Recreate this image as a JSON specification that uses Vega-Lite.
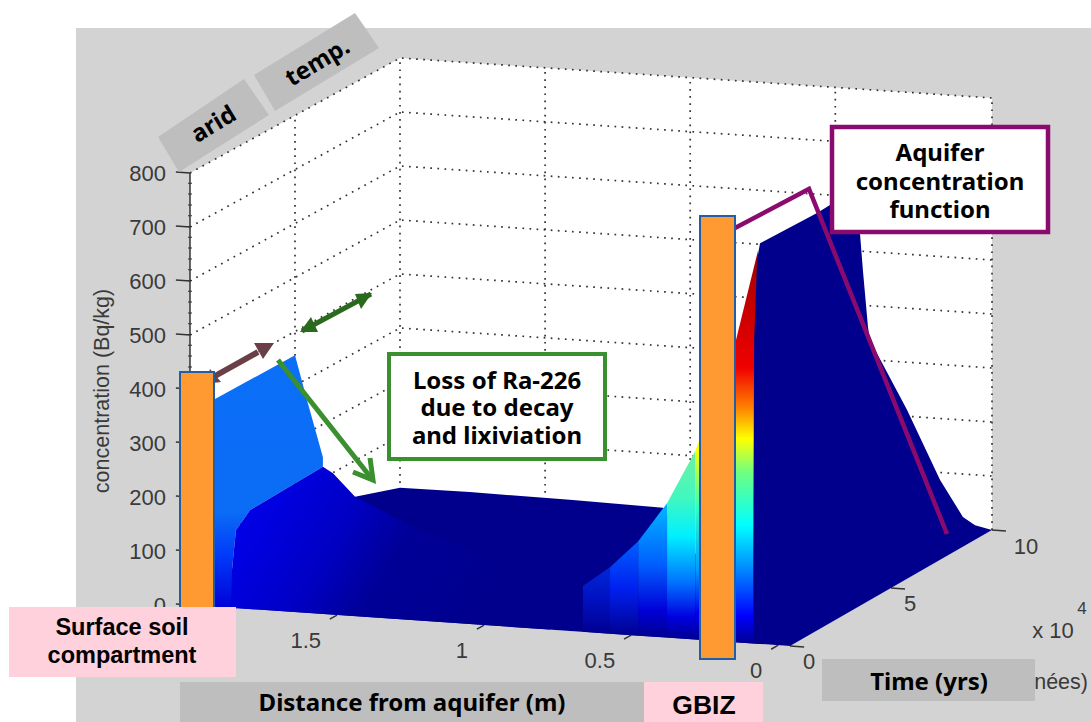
{"$schema":"https://vega.github.io/schema/vega-lite/v6.json","width":1091,"height":722,"padding":0,"autosize":{"type":"fit","contains":"padding"},"background":"#ffffff","config":{"view":{"stroke":null}},
"data":{"values":[
{"part":"panel","x":76,"x2":1091,"y":28,"y2":722},
{"part":"wall","seq":1,"distance":2,"time":0,"conc":0},{"part":"wall","seq":2,"distance":2,"time":0,"conc":800},{"part":"wall","seq":3,"distance":2,"time":10,"conc":800},{"part":"wall","seq":4,"distance":-0.04,"time":10,"conc":800},{"part":"wall","seq":5,"distance":-0.04,"time":10,"conc":0},{"part":"wall","seq":6,"distance":-0.04,"time":0,"conc":0},
{"part":"grid","id":"g100","seq":1,"distance":2,"time":0,"conc":100},{"part":"grid","id":"g100","seq":2,"distance":2,"time":10,"conc":100},{"part":"grid","id":"g100","seq":3,"distance":-0.04,"time":10,"conc":100},
{"part":"grid","id":"g200","seq":1,"distance":2,"time":0,"conc":200},{"part":"grid","id":"g200","seq":2,"distance":2,"time":10,"conc":200},{"part":"grid","id":"g200","seq":3,"distance":-0.04,"time":10,"conc":200},
{"part":"grid","id":"g300","seq":1,"distance":2,"time":0,"conc":300},{"part":"grid","id":"g300","seq":2,"distance":2,"time":10,"conc":300},{"part":"grid","id":"g300","seq":3,"distance":-0.04,"time":10,"conc":300},
{"part":"grid","id":"g400","seq":1,"distance":2,"time":0,"conc":400},{"part":"grid","id":"g400","seq":2,"distance":2,"time":10,"conc":400},{"part":"grid","id":"g400","seq":3,"distance":-0.04,"time":10,"conc":400},
{"part":"grid","id":"g500","seq":1,"distance":2,"time":0,"conc":500},{"part":"grid","id":"g500","seq":2,"distance":2,"time":10,"conc":500},{"part":"grid","id":"g500","seq":3,"distance":-0.04,"time":10,"conc":500},
{"part":"grid","id":"g600","seq":1,"distance":2,"time":0,"conc":600},{"part":"grid","id":"g600","seq":2,"distance":2,"time":10,"conc":600},{"part":"grid","id":"g600","seq":3,"distance":-0.04,"time":10,"conc":600},
{"part":"grid","id":"g700","seq":1,"distance":2,"time":0,"conc":700},{"part":"grid","id":"g700","seq":2,"distance":2,"time":10,"conc":700},{"part":"grid","id":"g700","seq":3,"distance":-0.04,"time":10,"conc":700},
{"part":"grid","id":"g800","seq":1,"distance":2,"time":0,"conc":800},{"part":"grid","id":"g800","seq":2,"distance":2,"time":10,"conc":800},{"part":"grid","id":"g800","seq":3,"distance":-0.04,"time":10,"conc":800},
{"part":"grid","id":"vt5","seq":1,"distance":2,"time":5,"conc":0},{"part":"grid","id":"vt5","seq":2,"distance":2,"time":5,"conc":800},
{"part":"grid","id":"vd2","seq":1,"distance":2,"time":10,"conc":0},{"part":"grid","id":"vd2","seq":2,"distance":2,"time":10,"conc":800},
{"part":"grid","id":"vd15","seq":1,"distance":1.5,"time":10,"conc":0},{"part":"grid","id":"vd15","seq":2,"distance":1.5,"time":10,"conc":800},
{"part":"grid","id":"vd1","seq":1,"distance":1,"time":10,"conc":0},{"part":"grid","id":"vd1","seq":2,"distance":1,"time":10,"conc":800},
{"part":"grid","id":"vd05","seq":1,"distance":0.5,"time":10,"conc":0},{"part":"grid","id":"vd05","seq":2,"distance":0.5,"time":10,"conc":800},
{"part":"grid","id":"vd0","seq":1,"distance":-0.04,"time":10,"conc":0},{"part":"grid","id":"vd0","seq":2,"distance":-0.04,"time":10,"conc":800},
{"part":"minor","id":"zminor","seq":1,"distance":2,"time":0,"conc":0},{"part":"minor","id":"zminor","seq":2,"distance":2,"time":0,"conc":800},
{"part":"axis","id":"zaxis","seq":1,"distance":2,"time":0,"conc":0},{"part":"axis","id":"zaxis","seq":2,"distance":2,"time":0,"conc":800},
{"part":"axis","id":"z0","seq":1,"distance":2.048,"time":0,"conc":0},{"part":"axis","id":"z0","seq":2,"distance":2,"time":0,"conc":0},
{"part":"axis","id":"z100","seq":1,"distance":2.048,"time":0,"conc":100},{"part":"axis","id":"z100","seq":2,"distance":2,"time":0,"conc":100},
{"part":"axis","id":"z200","seq":1,"distance":2.048,"time":0,"conc":200},{"part":"axis","id":"z200","seq":2,"distance":2,"time":0,"conc":200},
{"part":"axis","id":"z300","seq":1,"distance":2.048,"time":0,"conc":300},{"part":"axis","id":"z300","seq":2,"distance":2,"time":0,"conc":300},
{"part":"axis","id":"z400","seq":1,"distance":2.048,"time":0,"conc":400},{"part":"axis","id":"z400","seq":2,"distance":2,"time":0,"conc":400},
{"part":"axis","id":"z500","seq":1,"distance":2.048,"time":0,"conc":500},{"part":"axis","id":"z500","seq":2,"distance":2,"time":0,"conc":500},
{"part":"axis","id":"z600","seq":1,"distance":2.048,"time":0,"conc":600},{"part":"axis","id":"z600","seq":2,"distance":2,"time":0,"conc":600},
{"part":"axis","id":"z700","seq":1,"distance":2.048,"time":0,"conc":700},{"part":"axis","id":"z700","seq":2,"distance":2,"time":0,"conc":700},
{"part":"axis","id":"z800","seq":1,"distance":2.048,"time":0,"conc":800},{"part":"axis","id":"z800","seq":2,"distance":2,"time":0,"conc":800},
{"part":"axis","id":"d15","seq":1,"distance":1.5,"time":-0.35,"conc":0},{"part":"axis","id":"d15","seq":2,"distance":1.5,"time":0,"conc":0},
{"part":"axis","id":"d1","seq":1,"distance":1,"time":-0.35,"conc":0},{"part":"axis","id":"d1","seq":2,"distance":1,"time":0,"conc":0},
{"part":"axis","id":"d05","seq":1,"distance":0.5,"time":-0.35,"conc":0},{"part":"axis","id":"d05","seq":2,"distance":0.5,"time":0,"conc":0},
{"part":"axis","id":"d0","seq":1,"distance":0,"time":-0.35,"conc":0},{"part":"axis","id":"d0","seq":2,"distance":0,"time":0,"conc":0},
{"part":"axis","id":"t0","seq":1,"distance":-0.04,"time":0,"conc":0},{"part":"axis","id":"t0","seq":2,"distance":-0.088,"time":0,"conc":0},
{"part":"axis","id":"t5","seq":1,"distance":-0.04,"time":5,"conc":0},{"part":"axis","id":"t5","seq":2,"distance":-0.088,"time":5,"conc":0},
{"part":"axis","id":"t10","seq":1,"distance":-0.04,"time":10,"conc":0},{"part":"axis","id":"t10","seq":2,"distance":-0.088,"time":10,"conc":0},
{"part":"zlabel","distance":2,"time":0,"conc":0,"label":"0"},{"part":"zlabel","distance":2,"time":0,"conc":100,"label":"100"},{"part":"zlabel","distance":2,"time":0,"conc":200,"label":"200"},{"part":"zlabel","distance":2,"time":0,"conc":300,"label":"300"},{"part":"zlabel","distance":2,"time":0,"conc":400,"label":"400"},{"part":"zlabel","distance":2,"time":0,"conc":500,"label":"500"},{"part":"zlabel","distance":2,"time":0,"conc":600,"label":"600"},{"part":"zlabel","distance":2,"time":0,"conc":700,"label":"700"},{"part":"zlabel","distance":2,"time":0,"conc":800,"label":"800"},
{"part":"dlabel","distance":1.5,"time":0,"conc":0,"label":"1.5"},{"part":"dlabel","distance":1,"time":0,"conc":0,"label":"1"},{"part":"dlabel","distance":0.5,"time":0,"conc":0,"label":"0.5"},{"part":"dlabel","distance":0,"time":0,"conc":0,"label":"0"},
{"part":"tlabel","distance":-0.04,"time":0,"conc":0,"label":"0"},{"part":"tlabel","distance":-0.04,"time":5,"conc":0,"label":"5"},{"part":"tlabel","distance":-0.07,"time":10,"conc":0,"label":"10"},
{"part":"floor","seq":1,"distance":2,"time":0,"conc":0},{"part":"floor","seq":2,"distance":0.062,"time":0,"conc":0},{"part":"floor","seq":3,"distance":1.094,"time":10,"conc":0},{"part":"floor","seq":4,"distance":1.415,"time":10,"conc":3},{"part":"floor","seq":5,"distance":1.76,"time":10,"conc":5},{"part":"floor","seq":6,"distance":2,"time":10,"conc":4},{"part":"floor","seq":7,"distance":2,"time":7.86,"conc":33},
{"part":"light","seq":1,"distance":2,"time":0,"conc":0},{"part":"light","seq":2,"distance":2,"time":0,"conc":356},{"part":"light","seq":3,"distance":2,"time":5,"conc":356},{"part":"light","seq":4,"distance":2,"time":5.57,"conc":261},{"part":"light","seq":5,"distance":2,"time":6.33,"conc":139},{"part":"light","seq":6,"distance":1.898,"time":4.91,"conc":155},{"part":"light","seq":7,"distance":1.898,"time":1.43,"conc":149},{"part":"light","seq":8,"distance":1.898,"time":0.76,"conc":126},{"part":"light","seq":9,"distance":1.898,"time":0.57,"conc":56},{"part":"light","seq":10,"distance":1.84,"time":0,"conc":0},
{"part":"blue","seq":1,"distance":1.86,"time":0,"conc":0},{"part":"blue","seq":2,"distance":1.898,"time":0.57,"conc":56},{"part":"blue","seq":3,"distance":1.898,"time":0.76,"conc":126},{"part":"blue","seq":4,"distance":1.898,"time":1.43,"conc":149},{"part":"blue","seq":5,"distance":1.898,"time":4.91,"conc":155},{"part":"blue","seq":6,"distance":2,"time":6.81,"conc":99},{"part":"blue","seq":7,"distance":2,"time":7.86,"conc":33},{"part":"blue","seq":8,"distance":1.718,"time":7.01,"conc":0},{"part":"blue","seq":9,"distance":1.108,"time":4.17,"conc":0},{"part":"blue","seq":10,"distance":0.776,"time":0,"conc":0},
{"part":"s1","seq":1,"distance":0.664,"time":0,"conc":0},{"part":"s1","seq":2,"distance":0.664,"time":0,"conc":85},{"part":"s1","seq":3,"distance":0.572,"time":0,"conc":123},{"part":"s1","seq":4,"distance":0.572,"time":0,"conc":0},
{"part":"s2","seq":1,"distance":0.572,"time":0,"conc":0},{"part":"s2","seq":2,"distance":0.572,"time":0,"conc":123},{"part":"s2","seq":3,"distance":0.476,"time":0,"conc":175},{"part":"s2","seq":4,"distance":0.476,"time":0,"conc":0},
{"part":"s3","seq":1,"distance":0.476,"time":0,"conc":0},{"part":"s3","seq":2,"distance":0.476,"time":0,"conc":175},{"part":"s3","seq":3,"distance":0.378,"time":0,"conc":249},{"part":"s3","seq":4,"distance":0.378,"time":0,"conc":0},
{"part":"s4","seq":1,"distance":0.378,"time":0,"conc":0},{"part":"s4","seq":2,"distance":0.378,"time":0,"conc":249},{"part":"s4","seq":3,"distance":0.282,"time":0,"conc":349},{"part":"s4","seq":4,"distance":0.282,"time":0,"conc":0},
{"part":"s5","seq":1,"distance":0.282,"time":0,"conc":0},{"part":"s5","seq":2,"distance":0.282,"time":0,"conc":349},{"part":"s5","seq":3,"distance":0.148,"time":0,"conc":550},{"part":"s5","seq":4,"distance":0.148,"time":0,"conc":0},
{"part":"jet","seq":1,"distance":0.148,"time":0,"conc":0},{"part":"jet","seq":2,"distance":0.148,"time":0,"conc":550},{"part":"jet","seq":3,"distance":0.068,"time":0,"conc":730},{"part":"jet","seq":4,"distance":0.086,"time":0,"conc":0},
{"part":"navy","seq":1,"distance":0.086,"time":0,"conc":0},{"part":"navy","seq":2,"distance":0.082,"time":0,"conc":562},{"part":"navy","seq":3,"distance":0.072,"time":0,"conc":710},{"part":"navy","seq":4,"distance":0.062,"time":0,"conc":742},{"part":"navy","seq":5,"distance":-0.04,"time":1.34,"conc":773},{"part":"navy","seq":6,"distance":-0.04,"time":1.98,"conc":774},{"part":"navy","seq":7,"distance":-0.04,"time":2.72,"conc":757},{"part":"navy","seq":8,"distance":-0.04,"time":3.47,"conc":687},{"part":"navy","seq":9,"distance":-0.04,"time":3.61,"conc":618},{"part":"navy","seq":10,"distance":-0.04,"time":3.86,"conc":508},{"part":"navy","seq":11,"distance":-0.04,"time":3.96,"conc":481},{"part":"navy","seq":12,"distance":-0.04,"time":5.79,"conc":313},{"part":"navy","seq":13,"distance":-0.04,"time":7.43,"conc":148},{"part":"navy","seq":14,"distance":-0.04,"time":8.56,"conc":55},{"part":"navy","seq":15,"distance":-0.04,"time":9.16,"conc":27},{"part":"navy","seq":16,"distance":-0.04,"time":10,"conc":0},{"part":"navy","seq":17,"distance":-0.04,"time":0,"conc":0},
{"part":"tag","id":"arid","seq":1,"x":158,"y":137},{"part":"tag","id":"arid","seq":2,"x":244,"y":79},{"part":"tag","id":"arid","seq":3,"x":269,"y":115},{"part":"tag","id":"arid","seq":4,"x":179,"y":172},
{"part":"tag","id":"temp","seq":1,"x":254,"y":75},{"part":"tag","id":"temp","seq":2,"x":355,"y":13},{"part":"tag","id":"temp","seq":3,"x":379,"y":48},{"part":"tag","id":"temp","seq":4,"x":275,"y":111},
{"part":"tagtext","x":214,"y":125,"label":"arid"},{"part":"tagtext","x":318,"y":63,"label":"temp."},
{"part":"purple","seq":1,"x":735,"y":228},{"part":"purple","seq":2,"x":809,"y":189},{"part":"purple","seq":3,"x":947,"y":534},
{"part":"brownline","id":"a","seq":1,"x":215,"y":376},{"part":"brownline","id":"a","seq":2,"x":258,"y":352},
{"part":"brownhead","id":"h1","seq":1,"x":274,"y":343},{"part":"brownhead","id":"h1","seq":2,"x":254,"y":343},{"part":"brownhead","id":"h1","seq":3,"x":263,"y":359},
{"part":"brownhead","id":"h2","seq":1,"x":205,"y":384},{"part":"brownhead","id":"h2","seq":2,"x":210,"y":369},{"part":"brownhead","id":"h2","seq":3,"x":221,"y":382},
{"part":"greenline","id":"d","seq":1,"x":302,"y":331},{"part":"greenline","id":"d","seq":2,"x":371,"y":294},
{"part":"greenhead","id":"h1","seq":1,"x":300,"y":332},{"part":"greenhead","id":"h1","seq":2,"x":311,"y":317},{"part":"greenhead","id":"h1","seq":3,"x":318,"y":332},
{"part":"greenhead","id":"h2","seq":1,"x":372,"y":293},{"part":"greenhead","id":"h2","seq":2,"x":355,"y":294},{"part":"greenhead","id":"h2","seq":3,"x":361,"y":309},
{"part":"arrow2","id":"s","seq":1,"x":278,"y":360},{"part":"arrow2","id":"s","seq":2,"x":372,"y":479},
{"part":"arrow2","id":"c","seq":1,"x":353,"y":472},{"part":"arrow2","id":"c","seq":2,"x":373,"y":480},{"part":"arrow2","id":"c","seq":3,"x":370,"y":458},
{"part":"orange","x":180,"x2":214,"y":372,"y2":625},{"part":"orange","x":700,"x2":735,"y":216,"y2":659},
{"part":"gray","x":180,"x2":644,"y":682,"y2":722},{"part":"gray","x":822,"x2":1035,"y":659,"y2":701},
{"part":"pink","x":9,"x2":236,"y":607,"y2":677},{"part":"pink","x":644,"x2":763,"y":682,"y2":722},
{"part":"greenbox","x":389,"x2":605,"y":354,"y2":459},
{"part":"purplebox","x":832,"x2":1048,"y":127,"y2":232},
{"part":"ylab","x":103,"y":391,"label":"concentration (Bq/kg)"},
{"part":"plain","x":1088,"y":683,"label":"nées)"},
{"part":"exp","x":1053,"y":631,"label":"x 10"},
{"part":"expn","x":1082,"y":609,"label":"4"},
{"part":"note","x":497,"y":380,"label":"Loss of Ra-226"},{"part":"note","x":497,"y":407,"label":"due to decay"},{"part":"note","x":497,"y":435,"label":"and lixiviation"},
{"part":"note","x":940,"y":152,"label":"Aquifer"},{"part":"note","x":940,"y":181,"label":"concentration"},{"part":"note","x":940,"y":209,"label":"function"},
{"part":"note","x":412,"y":702,"label":"Distance from aquifer (m)"},{"part":"note","x":929,"y":681,"label":"Time (yrs)"},
{"part":"arial","x":122,"y":628,"label":"Surface soil"},{"part":"arial","x":122,"y":656,"label":"compartment"},{"part":"gbiz","x":704,"y":706,"label":"GBIZ"}
]},
"transform":[
{"calculate":"(2-datum.distance)/2.04","as":"a"},
{"calculate":"datum.time/10","as":"b"},
{"calculate":"isValid(datum.distance)?190+600*datum.a+210*datum.b-8*datum.a*datum.b:datum.x","as":"sx"},
{"calculate":"isValid(datum.distance)?605+41*datum.a-115*datum.b-datum.a*datum.b-0.54*datum.conc:datum.y","as":"sy"}
],
"encoding":{"x":{"field":"sx","type":"quantitative","scale":{"domain":[0,1091],"nice":false,"zero":false},"axis":null},"y":{"field":"sy","type":"quantitative","scale":{"domain":[0,722],"reverse":true,"nice":false,"zero":false},"axis":null}},
"layer":[
{"transform":[{"filter":"datum.part=='panel'"}],"mark":{"type":"rect","fill":"#d3d3d3"},"encoding":{"x2":{"field":"x2"},"y2":{"field":"y2"}}},
{"transform":[{"filter":"datum.part=='wall'"}],"mark":{"type":"line","fill":"#ffffff","stroke":null},"encoding":{"order":{"field":"seq"}}},
{"transform":[{"filter":"datum.part=='grid'"}],"mark":{"type":"line","stroke":"#333333","strokeWidth":1.7,"strokeDash":[1.7,5.4]},"encoding":{"detail":{"field":"id"},"order":{"field":"seq"}}},
{"transform":[{"filter":"datum.part=='minor'"}],"mark":{"type":"line","stroke":"#333333","strokeWidth":4,"strokeDash":[1,9.8]},"encoding":{"detail":{"field":"id"},"order":{"field":"seq"}}},
{"transform":[{"filter":"datum.part=='axis'"}],"mark":{"type":"line","stroke":"#333333","strokeWidth":1.5},"encoding":{"detail":{"field":"id"},"order":{"field":"seq"}}},
{"transform":[{"filter":"datum.part=='zlabel'"}],"mark":{"type":"text","align":"right","baseline":"middle","dx":-24,"dy":1,"font":"Liberation Sans","fontSize":22,"fill":"#3a3a3a"},"encoding":{"text":{"field":"label"}}},
{"transform":[{"filter":"datum.part=='dlabel'"}],"mark":{"type":"text","align":"right","baseline":"middle","dx":-16,"dy":26,"font":"Liberation Sans","fontSize":22,"fill":"#3a3a3a"},"encoding":{"text":{"field":"label"}}},
{"transform":[{"filter":"datum.part=='tlabel'"}],"mark":{"type":"text","align":"left","baseline":"middle","dx":13,"dy":16,"font":"Liberation Sans","fontSize":22,"fill":"#3a3a3a"},"encoding":{"text":{"field":"label"}}},
{"transform":[{"filter":"datum.part=='ylab'"}],"mark":{"type":"text","angle":270,"align":"center","baseline":"middle","font":"Liberation Sans","fontSize":21.5,"fill":"#3a3a3a"},"encoding":{"text":{"field":"label"}}},
{"transform":[{"filter":"datum.part=='plain'"}],"mark":{"type":"text","align":"right","baseline":"middle","font":"Liberation Sans","fontSize":21.5,"fill":"#3a3a3a"},"encoding":{"text":{"field":"label"}}},
{"transform":[{"filter":"datum.part=='exp'"}],"mark":{"type":"text","align":"center","baseline":"middle","font":"Liberation Sans","fontSize":22,"fill":"#3a3a3a"},"encoding":{"text":{"field":"label"}}},
{"transform":[{"filter":"datum.part=='expn'"}],"mark":{"type":"text","align":"center","baseline":"middle","font":"Liberation Sans","fontSize":17,"fill":"#3a3a3a"},"encoding":{"text":{"field":"label"}}},
{"transform":[{"filter":"datum.part=='floor'"}],"mark":{"type":"line","fill":"#00008c","stroke":null},"encoding":{"order":{"field":"seq"}}},
{"transform":[{"filter":"datum.part=='light'"}],"mark":{"type":"line","stroke":null,"fill":{"gradient":"linear","x1":0,"y1":0,"x2":0,"y2":1,"stops":[{"offset":0,"color":"#0b6ff8"},{"offset":0.62,"color":"#0b6cf6"},{"offset":0.8,"color":"#0038f8"},{"offset":1,"color":"#0000d8"}]}},"encoding":{"order":{"field":"seq"}}},
{"transform":[{"filter":"datum.part=='blue'"}],"mark":{"type":"line","stroke":null,"fill":{"gradient":"linear","x1":0,"y1":0,"x2":1,"y2":0.3,"stops":[{"offset":0,"color":"#0000f0"},{"offset":0.2,"color":"#0000e0"},{"offset":0.42,"color":"#0000c4"},{"offset":0.62,"color":"#000098"},{"offset":1,"color":"#00008c"}]}},"encoding":{"order":{"field":"seq"}}},
{"transform":[{"filter":"datum.part=='s1'"}],"mark":{"type":"line","stroke":null,"fill":{"gradient":"linear","x1":0,"y1":0,"x2":0,"y2":1,"stops":[{"offset":0,"color":"#0028d8"},{"offset":0.5,"color":"#0010c0"},{"offset":1,"color":"#000090"}]}},"encoding":{"order":{"field":"seq"}}},
{"transform":[{"filter":"datum.part=='s2'"}],"mark":{"type":"line","stroke":null,"fill":{"gradient":"linear","x1":0,"y1":0,"x2":0,"y2":1,"stops":[{"offset":0,"color":"#0060ff"},{"offset":0.5,"color":"#0020f0"},{"offset":1,"color":"#000090"}]}},"encoding":{"order":{"field":"seq"}}},
{"transform":[{"filter":"datum.part=='s3'"}],"mark":{"type":"line","stroke":null,"fill":{"gradient":"linear","x1":0,"y1":0,"x2":0,"y2":1,"stops":[{"offset":0,"color":"#00b8ff"},{"offset":0.45,"color":"#0060ff"},{"offset":0.8,"color":"#0000d8"},{"offset":1,"color":"#000090"}]}},"encoding":{"order":{"field":"seq"}}},
{"transform":[{"filter":"datum.part=='s4'"}],"mark":{"type":"line","stroke":null,"fill":{"gradient":"linear","x1":0,"y1":0,"x2":0,"y2":1,"stops":[{"offset":0,"color":"#70f0a0"},{"offset":0.25,"color":"#40f8c0"},{"offset":0.45,"color":"#00f0ff"},{"offset":0.7,"color":"#0070ff"},{"offset":0.88,"color":"#0000e0"},{"offset":1,"color":"#000090"}]}},"encoding":{"order":{"field":"seq"}}},
{"transform":[{"filter":"datum.part=='s5'"}],"mark":{"type":"line","stroke":null,"fill":{"gradient":"linear","x1":0,"y1":0,"x2":0,"y2":1,"stops":[{"offset":0,"color":"#ffb000"},{"offset":0.35,"color":"#ffff00"},{"offset":0.55,"color":"#30ffc0"},{"offset":0.75,"color":"#00a0ff"},{"offset":0.9,"color":"#0000f0"},{"offset":1,"color":"#000090"}]}},"encoding":{"order":{"field":"seq"}}},
{"transform":[{"filter":"datum.part=='jet'"}],"mark":{"type":"line","stroke":null,"fill":{"gradient":"linear","x1":0,"y1":0,"x2":0,"y2":1,"stops":[{"offset":0,"color":"#a00000"},{"offset":0.3,"color":"#f00000"},{"offset":0.4,"color":"#ff8000"},{"offset":0.48,"color":"#ffff00"},{"offset":0.565,"color":"#70ff80"},{"offset":0.7,"color":"#00ffff"},{"offset":0.82,"color":"#0080ff"},{"offset":0.93,"color":"#0000ff"},{"offset":1,"color":"#000090"}]}},"encoding":{"order":{"field":"seq"}}},
{"transform":[{"filter":"datum.part=='navy'"}],"mark":{"type":"line","fill":"#00008c","stroke":null},"encoding":{"order":{"field":"seq"}}},
{"transform":[{"filter":"datum.part=='tag'"}],"mark":{"type":"line","fill":"#bebebe","stroke":null},"encoding":{"detail":{"field":"id"},"order":{"field":"seq"}}},
{"transform":[{"filter":"datum.part=='tagtext'"}],"mark":{"type":"text","angle":329,"align":"center","baseline":"middle","font":"Noto Sans","fontWeight":"bold","fontSize":24,"fill":"#000000"},"encoding":{"text":{"field":"label"}}},
{"transform":[{"filter":"datum.part=='brownline'"}],"mark":{"type":"line","stroke":"#6b3f47","strokeWidth":6},"encoding":{"detail":{"field":"id"},"order":{"field":"seq"}}},
{"transform":[{"filter":"datum.part=='brownhead'"}],"mark":{"type":"line","fill":"#6b3f47","stroke":null},"encoding":{"detail":{"field":"id"},"order":{"field":"seq"}}},
{"transform":[{"filter":"datum.part=='greenline'"}],"mark":{"type":"line","stroke":"#2a6a1e","strokeWidth":5},"encoding":{"detail":{"field":"id"},"order":{"field":"seq"}}},
{"transform":[{"filter":"datum.part=='greenhead'"}],"mark":{"type":"line","fill":"#2a6a1e","stroke":null},"encoding":{"detail":{"field":"id"},"order":{"field":"seq"}}},
{"transform":[{"filter":"datum.part=='arrow2'"}],"mark":{"type":"line","stroke":"#3a8f2e","strokeWidth":5},"encoding":{"detail":{"field":"id"},"order":{"field":"seq"}}},
{"transform":[{"filter":"datum.part=='purple'"}],"mark":{"type":"line","stroke":"#8b0a6d","strokeWidth":4.5},"encoding":{"order":{"field":"seq"}}},
{"transform":[{"filter":"datum.part=='orange'"}],"mark":{"type":"rect","fill":"#ff9a33","stroke":"#1f5fa8","strokeWidth":2},"encoding":{"x2":{"field":"x2"},"y2":{"field":"y2"}}},
{"transform":[{"filter":"datum.part=='gray'"}],"mark":{"type":"rect","fill":"#bebebe"},"encoding":{"x2":{"field":"x2"},"y2":{"field":"y2"}}},
{"transform":[{"filter":"datum.part=='pink'"}],"mark":{"type":"rect","fill":"#ffd1dc"},"encoding":{"x2":{"field":"x2"},"y2":{"field":"y2"}}},
{"transform":[{"filter":"datum.part=='greenbox'"}],"mark":{"type":"rect","fill":"#ffffff","stroke":"#3a8f2e","strokeWidth":4},"encoding":{"x2":{"field":"x2"},"y2":{"field":"y2"}}},
{"transform":[{"filter":"datum.part=='purplebox'"}],"mark":{"type":"rect","fill":"#ffffff","stroke":"#8b0a6d","strokeWidth":4.5},"encoding":{"x2":{"field":"x2"},"y2":{"field":"y2"}}},
{"transform":[{"filter":"datum.part=='note'"}],"mark":{"type":"text","align":"center","baseline":"middle","dy":2,"font":"Noto Sans","fontWeight":"bold","fontSize":24,"fill":"#000000"},"encoding":{"text":{"field":"label"}}},
{"transform":[{"filter":"datum.part=='arial'"}],"mark":{"type":"text","align":"center","baseline":"middle","font":"Liberation Sans","fontWeight":"bold","fontSize":23.5,"fill":"#000000"},"encoding":{"text":{"field":"label"}}},
{"transform":[{"filter":"datum.part=='gbiz'"}],"mark":{"type":"text","align":"center","baseline":"middle","font":"Liberation Sans","fontWeight":"bold","fontSize":26.5,"fill":"#000000"},"encoding":{"text":{"field":"label"}}}
]}
